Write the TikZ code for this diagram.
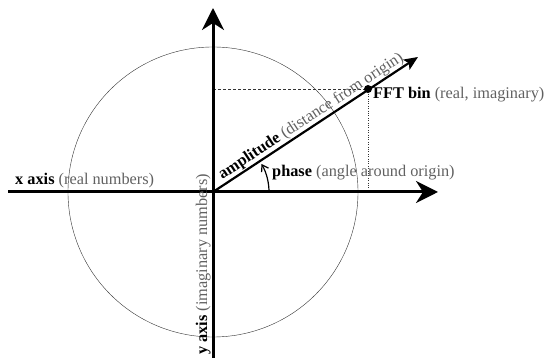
\documentclass[tikz,border=0pt]{standalone}
\usepackage{fontspec}
\setmainfont{Liberation Serif}
\usetikzlibrary{arrows.meta,calc}

\newcommand{\lbl}[2]{\textbf{#1} {\color{black!62}(#2)}}

\begin{document}
\begin{tikzpicture}[x=1pt,y=1pt]
\tikzset{axis/.style={line width=3pt,-{Stealth[length=22pt,width=22pt,inset=7pt]}},
 txt/.style={font=\fontsize{16.3}{18}\selectfont,inner sep=0pt},
 guide/.style={thin,black!80}}
\useasboundingbox (0,0) rectangle (549,358);
\coordinate (O) at (213,166);
\coordinate (xl) at (8,166);
\coordinate (xr) at (438,166);
\coordinate (yb) at (213,0);
\coordinate (yt) at (213,350);
\coordinate (bin) at (368,269);
\coordinate (tip) at (418,301);
\coordinate (yproj) at (O |- bin);
\coordinate (xproj) at (bin |- O);
% circle
\draw[guide] (O) circle (145);
% projections
\draw[guide,dash pattern=on 3pt off 2pt] (yproj) -- (bin);
\draw[guide,dotted] (bin) -- (xproj);
% axes
\draw[axis] (xl) -- (xr);
\draw[axis] (yb) -- (yt);
% amplitude
\draw[line width=2.2pt,-{Stealth[length=14pt,width=12pt,inset=3pt]}] (O) -- (tip)
 node[txt,pos=0.055,sloped,anchor=base west,yshift=5pt] (amp) {\lbl{amplitude}{distance from origin}};
\fill (bin) circle (4);
% phase
\draw[line width=1.2pt,-{Straight Barb[length=6pt,width=8pt]}] ($(O)+(56,0)$) arc (0:30:56);
% labels
\node[txt,anchor=base west] (xlab) at (15,173) {\lbl{x axis}{real numbers}};
\node[txt,anchor=base west] (binlab) at (373,259) {\lbl{FFT bin}{real, imaginary}};
\node[txt,anchor=base west] (phlab) at (272,181) {\lbl{phase}{angle around origin}};
\node[txt,anchor=base west,rotate=90] (ylab) at (207,3) {\lbl{y axis}{imaginary numbers}};
\end{tikzpicture}
\end{document}
